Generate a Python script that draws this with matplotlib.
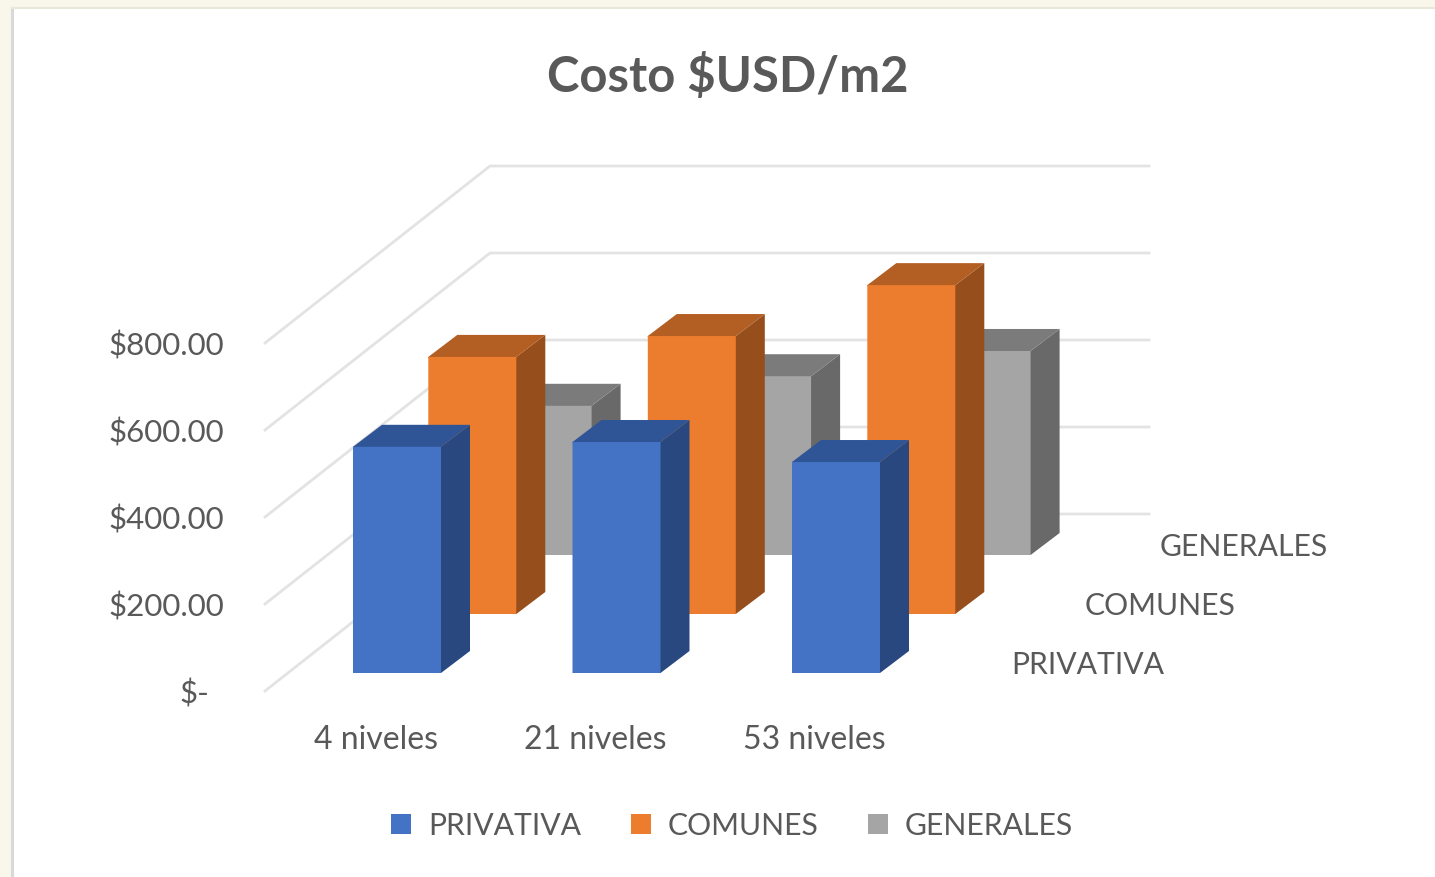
import matplotlib
matplotlib.use('Agg')
import matplotlib.pyplot as plt
from matplotlib.patches import Polygon, Rectangle

categories = ['4 niveles', '21 niveles', '53 niveles']
series = ['PRIVATIVA', 'COMUNES', 'GENERALES']
privativa = [520, 531, 485]
comunes = [591, 639, 756]
generales = [343, 411, 469]
yticks = [0, 200, 400, 600, 800]
ylabels = ['$-', '$200.00', '$400.00', '$600.00', '$800.00']

front = ['#4472c4', '#ed7d2e', '#a5a5a5']
top = ['#2f5597', '#b35e22', '#7b7b7b']
side = ['#2a4880', '#964f1c', '#696969']

# oblique projection, everything in picture pixels
pxval = 348 / 800.0
x0 = 353; y0 = 673
catstep = 219.5
serdx = 75.3; serdy = -59
barw = 88
depdx = 29; depdy = -22

def pt(cat, ser, val):
    return (x0 + cat * catstep + ser * serdx, y0 + ser * serdy - val * pxval)

fig = plt.figure(figsize=(14.35, 8.77), dpi=100, facecolor='#f9f6ec')
ax = fig.add_axes([0, 0, 1, 1])
ax.set_xlim(0, 1435)
ax.set_ylim(877, 0)
ax.axis('off')
plt.rcParams['font.family'] = ['Lato', 'DejaVu Sans']

ax.add_patch(Rectangle((12, 8), 1440, 880, facecolor='white', edgecolor='none'))
ax.plot([12, 12], [8, 877], color='#d9d9d9', linewidth=2.2, zorder=1)
ax.plot([12, 1435], [8, 8], color='#e6e8da', linewidth=1.5, zorder=1)

# walls
for v, lab in zip(yticks, ylabels):
    yb = 514 - v * pxval
    yf = 691 - v * pxval
    ax.plot([265, 490, 1149], [yf, yb, yb], color='#e3e3e3', linewidth=2, zorder=1)
    ax.text(224 if v else 209, yf + 3, lab, ha='right', va='center', fontsize=22.5, color='#595959')

# bars, back row first. side and top run 1px under the front so no seam shows
values = [privativa, comunes, generales]
z = 2
for s in [2, 1, 0]:
    for c in range(3):
        v = values[s][c]
        x, yb = pt(c, s, 0)
        yt = yb - v * pxval
        ax.add_patch(Polygon([(x + barw - 1, yb), (x + barw, yb), (x + barw + depdx, yb + depdy),
                              (x + barw + depdx, yt + depdy), (x + barw, yt), (x + barw - 1, yt)],
                             facecolor=side[s], edgecolor='none', zorder=z, snap=False))
        ax.add_patch(Polygon([(x, yt + 1), (x, yt), (x + depdx, yt + depdy), (x + barw + depdx, yt + depdy),
                              (x + barw, yt), (x + barw, yt + 1)],
                             facecolor=top[s], edgecolor='none', zorder=z, snap=False))
        ax.add_patch(Rectangle((x, yt), barw, yb - yt, facecolor=front[s], edgecolor='none', zorder=z + 0.5, snap=False))
        z += 1

# text
ax.text(728, 76, 'Costo $USD/m2', ha='center', va='center', fontsize=35.3, fontweight='bold', color='#595959')
for c, name in enumerate(categories):
    ax.text(375.5 + c * catstep, 740, name, ha='center', va='center', fontsize=23, color='#595959')
ax.text(1011, 665, series[0], ha='left', va='center', fontsize=21.7, color='#595959')
ax.text(1085, 606, series[1], ha='left', va='center', fontsize=21.7, color='#595959')
ax.text(1160, 547, series[2], ha='left', va='center', fontsize=21.7, color='#595959')

# legend
legx = [391, 631, 868]
for i, name in enumerate(series):
    ax.add_patch(Rectangle((legx[i], 814), 20, 20, facecolor=front[i], edgecolor='none'))
    ax.text(legx[i] + 37, 826, name, ha='left', va='center', fontsize=21.7, color='#595959')

fig.savefig('out.png', dpi=100, facecolor=fig.get_facecolor())
